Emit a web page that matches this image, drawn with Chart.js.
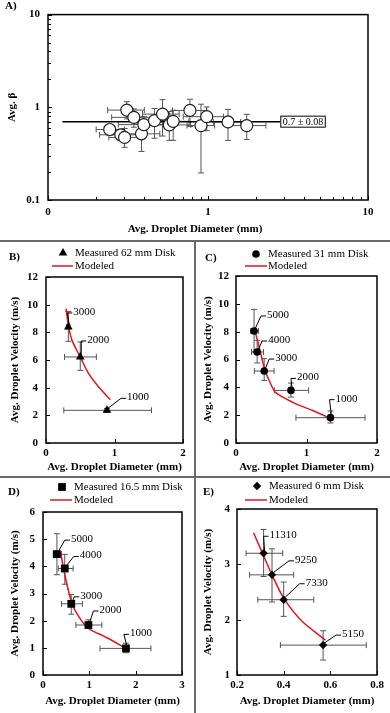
<!DOCTYPE html>
<html>
<head>
<meta charset="utf-8">
<title>Droplet beta and velocity vs diameter</title>
<script src="https://cdn.jsdelivr.net/npm/chart.js@4.4.1/dist/chart.umd.min.js"></script>
<style>
  body { margin: 0; background: #fff; }
  #page { position: relative; width: 390px; height: 713px; overflow: hidden; }
  canvas { position: absolute; }
  .sep { position: absolute; background: #6a6a6a; }
</style>
</head>
<body>
<div id="page">
  <canvas id="panelA" width="390" height="240" style="left:0;top:0"></canvas>
  <canvas id="panelB" width="194" height="234" style="left:0;top:242px"></canvas>
  <canvas id="panelC" width="194" height="234" style="left:196px;top:242px"></canvas>
  <canvas id="panelD" width="194" height="235" style="left:0;top:478px"></canvas>
  <canvas id="panelE" width="194" height="235" style="left:196px;top:478px"></canvas>
  <div class="sep" style="left:0;top:240px;width:390px;height:2px"></div>
  <div class="sep" style="left:0;top:476px;width:390px;height:2px"></div>
  <div class="sep" style="left:194px;top:240px;width:2px;height:473px"></div>
</div>
<script>
// ---------- Panel A: average beta vs droplet diameter (log-log) ----------
const aDiameter = [0.243, 0.311, 0.344, 0.285, 0.301, 0.384, 0.397, 0.463, 0.520, 0.573, 0.606, 0.771, 0.904, 0.982, 1.334, 1.746];
const aBeta = [0.576, 0.933, 0.779, 0.505, 0.473, 0.518, 0.651, 0.718, 0.845, 0.646, 0.706, 0.925, 0.635, 0.792, 0.695, 0.635];
const aDiameterErr = [[0.20, 0.30], [0.236, 0.40], [0.25, 0.46], [0.21, 0.37], [0.24, 0.385], [0.30, 0.50], [0.275, 0.58], [0.36, 0.60],
  [0.39, 0.66], [0.43, 0.78], [0.48, 0.76], [0.60, 0.98], [0.74, 1.10], [0.70, 1.25], [1.08, 1.60], [1.33, 2.30]];
const aBetaErr = [[0.52, 0.64], [0.75, 1.15], [0.61, 0.96], [0.44, 0.58], [0.37, 0.59], [0.334, 0.666], [0.53, 0.80], [0.464, 0.97],
  [0.49, 1.21], [0.44, 0.90], [0.44, 0.93], [0.62, 1.22], [0.196, 1.08], [0.56, 1.01], [0.44, 0.95], [0.45, 0.84]];
const aMeanSpan = [0.123, 2.83];
const aMeanBeta = 0.7;
const aMeanText = '0.7 ± 0.08';
const aDecades = [0.1, 1, 10];
const aXTickText = ['0', '1', '10'];
const aYTickText = ['0.1', '1', '10'];

// ---------- Panel B: 62 mm disk ----------
const bRpm = ['1000', '2000', '3000'];
const bDiameter = [0.89, 0.50, 0.326];
const bVelocity = [2.36, 6.22, 8.39];
const bDiameterErr = [[0.26, 1.54], [0.27, 0.735], [0.30, 0.35]];
const bVelocityErr = [[2.22, 2.50], [5.25, 7.30], [7.35, 9.50]];
const bModelDiameter = [0.292, 0.331, 0.380, 0.50, 0.623, 0.769, 0.939];
const bModelVelocity = [9.71, 8.39, 7.42, 6.22, 5.01, 4.05, 3.13];
const bXTicks = [0, 1, 2];
const bYTicks = [0, 2, 4, 6, 8, 10, 12];

// ---------- Panel C: 31 mm disk ----------
const cRpm = ['1000', '2000', '3000', '4000', '5000'];
const cDiameter = [1.34, 0.78, 0.40, 0.30, 0.256];
const cVelocity = [1.82, 3.78, 5.17, 6.54, 8.05];
const cDiameterErr = [[0.85, 1.83], [0.545, 1.03], [0.26, 0.54], [0.22, 0.39], [0.21, 0.32]];
const cVelocityErr = [[1.44, 2.30], [3.30, 4.31], [4.50, 6.06], [5.75, 7.38], [6.54, 9.60]];
const cModelDiameter = [0.27, 0.34, 0.41, 0.555, 0.84, 1.08, 1.35];
const cModelVelocity = [8.05, 6.66, 5.22, 3.66, 2.83, 2.35, 1.75];
const cXTicks = [0, 1, 2];
const cYTicks = [0, 2, 4, 6, 8, 10, 12];

// ---------- Panel D: 16.5 mm disk ----------
const dRpm = ['1000', '2000', '3000', '4000', '5000'];
const dDiameter = [1.79, 0.98, 0.61, 0.47, 0.30];
const dVelocity = [0.98, 1.84, 2.62, 3.92, 4.45];
const dDiameterErr = [[1.23, 2.33], [0.71, 1.27], [0.40, 0.85], [0.33, 0.65], [0.22, 0.40]];
const dVelocityErr = [[0.82, 1.17], [1.72, 2.03], [2.24, 2.96], [3.34, 4.44], [3.69, 5.20]];
const dModelDiameter = [0.38, 0.51, 0.65, 0.87, 1.01, 1.37, 1.81];
const dModelVelocity = [4.49, 3.38, 2.52, 1.91, 1.68, 1.38, 0.96];
const dXTicks = [0, 1, 2, 3];
const dYTicks = [0, 1, 2, 3, 4, 5, 6];

// ---------- Panel E: 6 mm disk ----------
const eRpm = ['5150', '7330', '9250', '11310'];
const eDiameter = [0.569, 0.40, 0.35, 0.314];
const eVelocity = [1.54, 2.36, 2.81, 3.20];
const eDiameterErr = [[0.386, 0.754], [0.289, 0.529], [0.254, 0.443], [0.239, 0.396]];
const eVelocityErr = [[1.27, 1.80], [2.06, 2.68], [2.32, 3.28], [2.78, 3.63]];
const eModelDiameter = [0.271, 0.307, 0.35, 0.40, 0.479, 0.579];
const eModelVelocity = [3.57, 3.22, 2.81, 2.39, 1.97, 1.63];
const eXTicks = [0.2, 0.4, 0.6, 0.8];
const eYTicks = [1, 2, 3, 4];

// Estilos comunes
const SERIF = '"Liberation Serif", "Times New Roman", Times, serif';
const INK = '#000';
const BAR_INK = '#555';
const MODEL_RED = '#e3141b';
const X_TITLE = 'Avg. Droplet Diameter (mm)';
const Y_TITLE = 'Avg. Droplet Velocity (m/s)';

function pts(xs, ys) {
    return xs.map((x, i) => ({ x: x, y: ys[i] }));
}

function drawMarker(ctx, style, x, y, r) {
    ctx.beginPath();
    if (style === 'triangle') {
        ctx.moveTo(x, y - r);
        ctx.lineTo(x + r * 0.866, y + r * 0.5);
        ctx.lineTo(x - r * 0.866, y + r * 0.5);
        ctx.closePath();
    } else if (style === 'rect') {
        const s = r * Math.SQRT1_2;
        ctx.rect(x - s, y - s, 2 * s, 2 * s);
    } else if (style === 'rectRot') {
        ctx.moveTo(x, y - r); ctx.lineTo(x + r, y); ctx.lineTo(x, y + r); ctx.lineTo(x - r, y);
        ctx.closePath();
    } else {
        ctx.arc(x, y, r, 0, Math.PI * 2);
    }
    ctx.fill();
}

// Plugin: error bars, inward ticks, frame, point labels, legend and panel tag
const decorPlugin = {
    id: 'decor',
    beforeDatasetsDraw(chart, args, o) {
        const ctx = chart.ctx, sx = chart.scales.x, sy = chart.scales.y;
        const data = chart.data.datasets[0].data;
        ctx.save();
        ctx.strokeStyle = BAR_INK;
        ctx.lineWidth = 1;
        data.forEach((p, i) => {
            const cx = sx.getPixelForValue(p.x), cy = sy.getPixelForValue(p.y);
            const x1 = sx.getPixelForValue(o.xErr[i][0]), x2 = sx.getPixelForValue(o.xErr[i][1]);
            const y1 = sy.getPixelForValue(o.yErr[i][0]), y2 = sy.getPixelForValue(o.yErr[i][1]);
            const c = o.cap;
            ctx.beginPath();
            ctx.moveTo(x1, cy); ctx.lineTo(x2, cy);
            ctx.moveTo(x1, cy - c); ctx.lineTo(x1, cy + c);
            ctx.moveTo(x2, cy - c); ctx.lineTo(x2, cy + c);
            ctx.moveTo(cx, y1); ctx.lineTo(cx, y2);
            ctx.moveTo(cx - c, y1); ctx.lineTo(cx + c, y1);
            ctx.moveTo(cx - c, y2); ctx.lineTo(cx + c, y2);
            ctx.stroke();
        });
        ctx.restore();
    },
    afterDraw(chart, args, o) {
        const ctx = chart.ctx, a = chart.chartArea;
        const sx = chart.scales.x, sy = chart.scales.y;
        ctx.save();
        ctx.strokeStyle = INK;
        ctx.fillStyle = INK;

        // marcas de los ejes hacia dentro
        ctx.lineWidth = 1;
        ctx.beginPath();
        sx.ticks.forEach(t => {
            const p = Math.round(sx.getPixelForValue(t.value)) + 0.5;
            const len = t.label === '' ? 3 : 4;
            ctx.moveTo(p, a.bottom); ctx.lineTo(p, a.bottom - len);
        });
        sy.ticks.forEach(t => {
            const p = Math.round(sy.getPixelForValue(t.value)) + 0.5;
            const len = t.label === '' ? 3 : 4;
            ctx.moveTo(a.left, p); ctx.lineTo(a.left + len, p);
        });
        ctx.stroke();

        // marco del área de la gráfica
        ctx.lineWidth = 1.5;
        ctx.strokeRect(a.left, a.top, a.right - a.left, a.bottom - a.top);

        // etiquetas de cada punto con su línea guía
        if (o.labels) {
            const data = chart.data.datasets[0].data;
            ctx.font = '11px ' + SERIF;
            ctx.textAlign = 'left';
            ctx.textBaseline = 'middle';
            ctx.lineWidth = 1;
            data.forEach((p, i) => {
                const cx = sx.getPixelForValue(p.x), cy = sy.getPixelForValue(p.y);
                const tx = cx + o.labelOffsets[i][0], ty = cy + o.labelOffsets[i][1];
                ctx.beginPath();
                ctx.moveTo(cx + 1, cy - 2);
                ctx.lineTo(tx - 6, ty + 1);
                ctx.lineTo(tx - 1, ty + 1);
                ctx.stroke();
                ctx.fillText(o.labels[i], tx, ty);
            });
        }

        // caja con el valor medio (panel A)
        if (o.meanText) {
            const m = chart.data.datasets[1].data[1];
            const bx = sx.getPixelForValue(m.x), by = sy.getPixelForValue(m.y);
            ctx.font = '10px ' + SERIF;
            const w = ctx.measureText(o.meanText).width + 4;
            ctx.fillStyle = '#fff';
            ctx.fillRect(bx, by - 6, w, 11);
            ctx.lineWidth = 1;
            ctx.strokeRect(bx + 0.5, by - 5.5, w, 11);
            ctx.fillStyle = INK;
            ctx.textAlign = 'left';
            ctx.textBaseline = 'middle';
            ctx.fillText(o.meanText, bx + 2.5, by + 0.5);
        }

        // leyenda
        if (o.legend) {
            const L = o.legend;
            ctx.fillStyle = INK;
            drawMarker(ctx, L.marker, L.markerX, L.markerY, L.markerSize);
            ctx.strokeStyle = MODEL_RED;
            ctx.lineWidth = 1.5;
            ctx.beginPath();
            ctx.moveTo(L.lineFrom, L.lineY); ctx.lineTo(L.lineTo, L.lineY);
            ctx.stroke();
            ctx.font = '11px ' + SERIF;
            ctx.textAlign = 'left';
            ctx.textBaseline = 'middle';
            ctx.fillText(L.measured, L.textX, L.markerY);
            ctx.fillText('Modeled', L.textX, L.lineY);
        }

        // letra del panel y títulos extra
        ctx.fillStyle = INK;
        ctx.font = 'bold 11px ' + SERIF;
        ctx.textAlign = 'left';
        ctx.textBaseline = 'middle';
        ctx.fillText(o.tag.text, o.tag.x, o.tag.y);
        if (o.xTitle) {
            ctx.textAlign = 'center';
            ctx.fillText(o.xTitle.text, o.xTitle.x, o.xTitle.y);
        }
        ctx.restore();
    }
};

function tickFont() {
    return { family: SERIF, size: 11, weight: 'bold' };
}

// sin rejilla ni marcas de Chart.js: las marcas se dibujan hacia dentro en el plugin
const NO_GRID = { display: false, drawTicks: false, tickLength: 0 };

function fixedTicks(values, texts) {
    return {
        build: axis => { axis.ticks = values.map(v => ({ value: v })); },
        label: (v, i) => texts[i]
    };
}

// Panel A (escala logarítmica con marcas menores)
(function () {
    const area = { left: 48, top: 13, right: 368, bottom: 200 };
    const W = 390, H = 240;
    const minorTicks = [];
    for (let d = 0; d < aDecades.length - 1; d++) {
        for (let k = 1; k < 10; k++) minorTicks.push(aDecades[d] * k);
    }
    minorTicks.push(aDecades[aDecades.length - 1]);
    const labelFor = texts => v => {
        const i = aDecades.findIndex(t => Math.abs(t - v) < 1e-9);
        return i < 0 ? '' : texts[i];
    };

    new Chart(document.getElementById('panelA'), {
        type: 'scatter',
        data: {
            datasets: [
                {
                    data: pts(aDiameter, aBeta),
                    pointStyle: 'circle', pointRadius: 6,
                    backgroundColor: '#fff', borderColor: '#222', borderWidth: 1.2
                },
                {
                    data: [{ x: aMeanSpan[0], y: aMeanBeta }, { x: aMeanSpan[1], y: aMeanBeta }],
                    showLine: true, borderColor: INK, borderWidth: 1.5, pointRadius: 0
                }
            ]
        },
        options: {
            responsive: false, animation: false, events: [],
            layout: { padding: { left: 0, top: area.top, right: W - area.right, bottom: 0 } },
            plugins: {
                legend: { display: false }, tooltip: { enabled: false },
                decor: {
                    xErr: aDiameterErr, yErr: aBetaErr, cap: 3,
                    meanText: aMeanText,
                    tag: { text: 'A)', x: 5, y: 6 },
                    xTitle: { text: X_TITLE, x: 195, y: 229 }
                }
            },
            scales: {
                x: {
                    type: 'logarithmic', min: 0.1, max: 10,
                    afterBuildTicks: axis => { axis.ticks = minorTicks.map(v => ({ value: v })); },
                    ticks: { callback: labelFor(aXTickText), autoSkip: false, maxRotation: 0, padding: 6, color: INK, font: tickFont() },
                    grid: NO_GRID, border: { display: false },
                    afterFit: s => { s.height = H - area.bottom; }
                },
                y: {
                    type: 'logarithmic', min: 0.1, max: 10,
                    afterBuildTicks: axis => { axis.ticks = minorTicks.map(v => ({ value: v })); },
                    ticks: { callback: labelFor(aYTickText), autoSkip: false, padding: 8, color: INK, font: tickFont() },
                    grid: NO_GRID, border: { display: false },
                    title: { display: true, text: 'Avg. β', color: INK, font: tickFont(), padding: { top: 5.5, bottom: 0 } },
                    afterFit: s => { s.width = area.left; }
                }
            }
        },
        plugins: [decorPlugin]
    });
})();

// Paneles B-E: velocidad frente a diámetro
function velocityPanel(id, p) {
    const xt = fixedTicks(p.xTicks, p.xTicks.map(String));
    const yt = fixedTicks(p.yTicks, p.yTicks.map(String));
    new Chart(document.getElementById(id), {
        type: 'scatter',
        data: {
            datasets: [
                {
                    data: pts(p.diameter, p.velocity),
                    pointStyle: p.marker, pointRadius: p.markerSize,
                    backgroundColor: INK, borderColor: INK, borderWidth: 0
                },
                {
                    data: pts(p.modelDiameter, p.modelVelocity),
                    showLine: true, borderColor: MODEL_RED, borderWidth: 1.5,
                    pointRadius: 0, tension: p.tension
                }
            ]
        },
        options: {
            responsive: false, animation: false, events: [],
            layout: { padding: { left: 0, top: p.area.top, right: p.w - p.area.right, bottom: 0 } },
            plugins: {
                legend: { display: false }, tooltip: { enabled: false },
                decor: {
                    xErr: p.diameterErr, yErr: p.velocityErr, cap: 3,
                    labels: p.rpm, labelOffsets: p.labelOffsets,
                    legend: Object.assign({ marker: p.marker, markerSize: p.markerSize, measured: p.measured }, p.legendAt),
                    tag: p.tag
                }
            },
            scales: {
                x: {
                    type: 'linear', min: p.xTicks[0], max: p.xTicks[p.xTicks.length - 1],
                    afterBuildTicks: xt.build,
                    ticks: { callback: xt.label, autoSkip: false, maxRotation: 0, padding: p.xTickPad, color: INK, font: tickFont() },
                    grid: NO_GRID, border: { display: false },
                    title: { display: true, text: X_TITLE, color: INK, font: tickFont(), padding: { top: 0, bottom: p.xTitlePad } },
                    afterFit: s => { s.height = p.h - p.area.bottom; }
                },
                y: {
                    type: 'linear', min: p.yTicks[0], max: p.yTicks[p.yTicks.length - 1],
                    afterBuildTicks: yt.build,
                    ticks: { callback: yt.label, autoSkip: false, padding: p.yTickPad, color: INK, font: tickFont() },
                    grid: NO_GRID, border: { display: false },
                    title: { display: true, text: Y_TITLE, color: INK, font: tickFont(), padding: { top: p.yTitlePad, bottom: 0 } },
                    afterFit: s => { s.width = p.area.left; }
                }
            }
        },
        plugins: [decorPlugin]
    });
}

velocityPanel('panelB', {
    w: 194, h: 234, area: { left: 46, top: 35, right: 183, bottom: 201 },
    rpm: bRpm, diameter: bDiameter, velocity: bVelocity,
    diameterErr: bDiameterErr, velocityErr: bVelocityErr,
    modelDiameter: bModelDiameter, modelVelocity: bModelVelocity, tension: 0.3,
    xTicks: bXTicks, yTicks: bYTicks,
    marker: 'triangle', markerSize: 5, measured: 'Measured 62 mm Disk',
    labelOffsets: [[20, -13], [7, -17], [5, -15]],
    legendAt: { markerX: 63, markerY: 11, textX: 75, lineFrom: 52, lineTo: 73, lineY: 24 },
    tag: { text: 'B)', x: 9, y: 15 },
    xTickPad: 3.5, xTitlePad: 2, yTickPad: 8, yTitlePad: 8.5
});

velocityPanel('panelC', {
    w: 194, h: 234, area: { left: 40, top: 34, right: 181, bottom: 201 },
    rpm: cRpm, diameter: cDiameter, velocity: cVelocity,
    diameterErr: cDiameterErr, velocityErr: cVelocityErr,
    modelDiameter: cModelDiameter, modelVelocity: cModelVelocity, tension: 0.15,
    xTicks: cXTicks, yTicks: cYTicks,
    marker: 'circle', markerSize: 3.8, measured: 'Measured 31 mm Disk',
    labelOffsets: [[5, -19], [6, -13], [11, -13], [11, -12], [13, -16]],
    legendAt: { markerX: 60, markerY: 12, textX: 72, lineFrom: 49, lineTo: 71, lineY: 24 },
    tag: { text: 'C)', x: 9, y: 16 },
    xTickPad: 3.5, xTitlePad: 2, yTickPad: 7, yTitlePad: 5.7
});

velocityPanel('panelD', {
    w: 194, h: 235, area: { left: 43, top: 34, right: 182, bottom: 197 },
    rpm: dRpm, diameter: dDiameter, velocity: dVelocity,
    diameterErr: dDiameterErr, velocityErr: dVelocityErr,
    modelDiameter: dModelDiameter, modelVelocity: dModelVelocity, tension: 0.3,
    xTicks: dXTicks, yTicks: dYTicks,
    marker: 'rect', markerSize: 5.5, measured: 'Measured 16.5 mm Disk',
    labelOffsets: [[4, -15], [11, -15], [9, -8], [15, -13], [14, -15]],
    legendAt: { markerX: 62, markerY: 9, textX: 74, lineFrom: 50, lineTo: 72, lineY: 22 },
    tag: { text: 'D)', x: 8, y: 14 },
    xTickPad: 3.5, xTitlePad: 5, yTickPad: 8, yTitlePad: 8.4
});

velocityPanel('panelE', {
    w: 194, h: 235, area: { left: 41, top: 31, right: 181, bottom: 197 },
    rpm: eRpm, diameter: eDiameter, velocity: eVelocity,
    diameterErr: eDiameterErr, velocityErr: eVelocityErr,
    modelDiameter: eModelDiameter, modelVelocity: eModelVelocity, tension: 0.3,
    xTicks: eXTicks, yTicks: eYTicks,
    marker: 'rectRot', markerSize: 4.2, measured: 'Measured 6 mm Disk',
    labelOffsets: [[19, -11], [22, -17], [23, -15], [6, -18]],
    legendAt: { markerX: 61, markerY: 8, textX: 73, lineFrom: 49, lineTo: 71, lineY: 22 },
    tag: { text: 'E)', x: 7, y: 14 },
    xTickPad: 3.5, xTitlePad: 5, yTickPad: 7, yTitlePad: 5.7
});
</script>
</body>
</html>
